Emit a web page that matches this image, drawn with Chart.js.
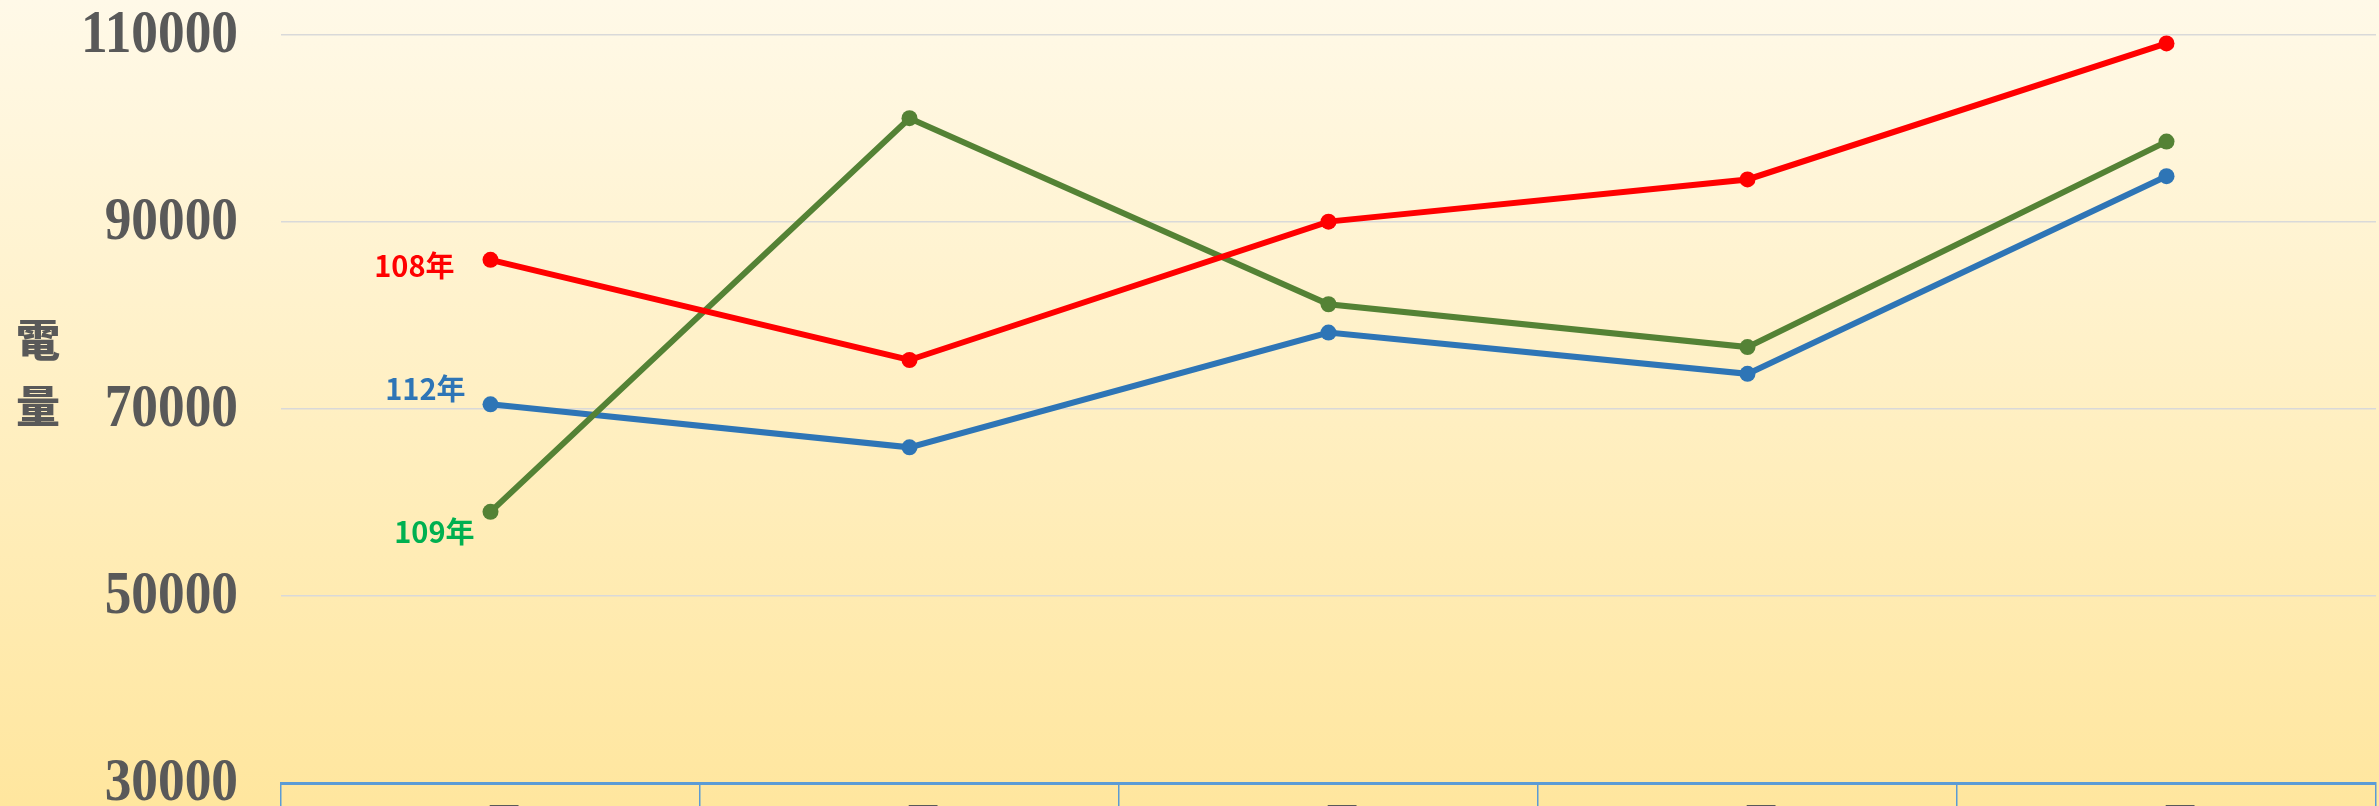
<!DOCTYPE html>
<html>
<head>
<meta charset="utf-8">
<script src="https://cdn.jsdelivr.net/npm/chart.js@4/dist/chart.umd.min.js"></script>
<style>
  html, body { margin: 0; padding: 0; overflow: hidden; width: 2379px; height: 806px; }
  #wrap { position: absolute; left: 0; top: 0; width: 2384px; height: 880px;
          background: linear-gradient(to bottom, #FFF9E8 0px, #FFE69E 806px, #FFE599 880px); }
  canvas { display: block; }
</style>
</head>
<body>
<div id="wrap"><canvas id="c" width="2384" height="880"></canvas></div>
<script>
const categories = ['1月', '2月', '3月', '4月', '5月'];
const seriesNames = ['108年', '109年', '112年'];
const values108 = [85950, 75240, 90040, 94550, 109100];
const values109 = [59000, 101100, 81200, 76620, 98600];
const values112 = [70500, 65900, 78170, 73760, 94900];
const yTickValues = [30000, 50000, 70000, 90000, 110000];
const yTitle = ['電', '量'];

const lineColors = ['#FF0000', '#548235', '#2E75B6'];
const labelColors = ['#FF0000', '#00B050', '#2E75B6'];
const labelOffsets = [[-36, 6], [-16, 20], [-25, -15]];

const seriesLabelPlugin = {
  id: 'seriesLabels',
  afterDatasetsDraw(chart) {
    const ctx = chart.ctx;
    ctx.save();
    ctx.font = 'bold 29px "Noto Sans CJK TC", "Open Sans", sans-serif';
    ctx.textAlign = 'right';
    ctx.textBaseline = 'middle';
    chart.data.datasets.forEach((ds, i) => {
      const pt = chart.getDatasetMeta(i).data[0];
      ctx.fillStyle = labelColors[i];
      ctx.fillText(ds.label, pt.x + labelOffsets[i][0], pt.y + labelOffsets[i][1]);
    });
    ctx.restore();
  }
};

// y tick labels drawn from the y scale, narrowed horizontally like the reference
const yTickLabelPlugin = {
  id: 'yTickLabels',
  afterDraw(chart) {
    const ctx = chart.ctx;
    const ys = chart.scales.y;
    ctx.save();
    ctx.font = 'bold 62px "Liberation Serif", "DejaVu Serif", serif';
    ctx.fillStyle = '#595959';
    ctx.textAlign = 'right';
    ctx.textBaseline = 'middle';
    yTickValues.forEach(v => {
      const y = ys.getPixelForValue(v);
      ctx.save();
      ctx.translate(ys.right - 43, y + 1);
      ctx.scale(0.86, 1);
      ctx.fillText(String(v), 0, 0);
      ctx.restore();
    });
    ctx.restore();
  }
};

const yTitlePlugin = {
  id: 'yTitleStacked',
  afterDraw(chart) {
    const ctx = chart.ctx;
    ctx.save();
    ctx.font = '900 44px "Noto Sans CJK TC", sans-serif';
    ctx.fillStyle = '#595959';
    ctx.textAlign = 'center';
    ctx.textBaseline = 'middle';
    ctx.fillText(yTitle[0], 38, 340);
    ctx.fillText(yTitle[1], 38, 406);
    ctx.restore();
  }
};

new Chart(document.getElementById('c'), {
  type: 'line',
  data: {
    labels: categories,
    datasets: [values108, values109, values112].map((vals, i) => ({
      label: seriesNames[i],
      data: vals,
      borderColor: lineColors[i],
      backgroundColor: lineColors[i],
      borderWidth: 6,
      pointRadius: 8,
      pointHoverRadius: 8,
      pointBorderWidth: 0,
      tension: 0,
      fill: false
    }))
  },
  options: {
    responsive: false,
    animation: false,
    devicePixelRatio: 1,
    layout: { padding: { top: 35, right: 0, left: 0, bottom: 0 } },
    plugins: {
      legend: { display: false },
      tooltip: { enabled: false },
      title: { display: false }
    },
    scales: {
      x: {
        type: 'category',
        offset: true,
        grid: {
          offset: true,
          drawOnChartArea: false,
          drawTicks: true,
          tickLength: 40,
          color: '#5B9BD5',
          lineWidth: 1.5
        },
        border: { display: true, color: '#5B9BD5', width: 3 },
        ticks: {
          padding: -25,
          color: '#595959',
          font: { family: '"Noto Sans CJK TC", sans-serif', size: 44, weight: 'bold' },
          maxRotation: 0,
          autoSkip: false
        },
        afterFit(scale) { scale.height = 97; }
      },
      y: {
        min: 30000,
        max: 110000,
        afterBuildTicks(scale) { scale.ticks = yTickValues.map(v => ({ value: v })); },
        grid: {
          drawTicks: false,
          color: (ctx) => (ctx.tick && ctx.tick.value === 30000) ? 'rgba(0,0,0,0)' : '#D9D9D9',
          lineWidth: 1.6
        },
        border: { display: false },
        ticks: { display: false },
        afterFit(scale) { scale.width = 281; }
      }
    }
  },
  plugins: [seriesLabelPlugin, yTickLabelPlugin, yTitlePlugin]
});
</script>
</body>
</html>
